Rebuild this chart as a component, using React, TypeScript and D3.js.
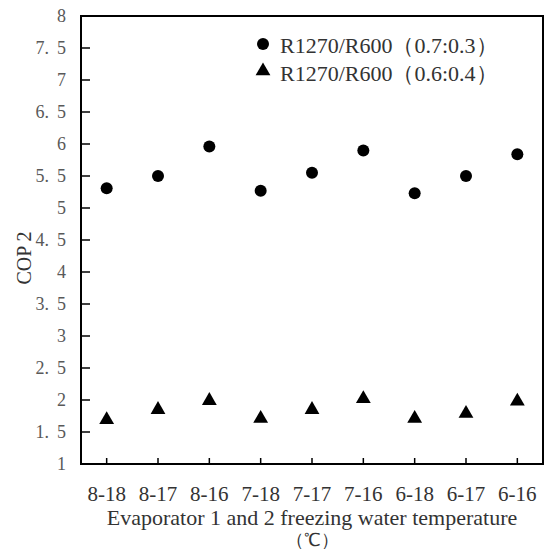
import React from "react";
import * as d3 from "d3";

const categories = ["8-18", "8-17", "8-16", "7-18", "7-17", "7-16", "6-18", "6-17", "6-16"];
const seriesA = [5.31, 5.5, 5.96, 5.27, 5.55, 5.9, 5.23, 5.5, 5.84];
const seriesB = [1.69, 1.85, 1.99, 1.71, 1.85, 2.02, 1.71, 1.79, 1.98];
const yTicks = [1, 1.5, 2, 2.5, 3, 3.5, 4, 4.5, 5, 5.5, 6, 6.5, 7, 7.5, 8];
const legendA = "R1270/R600（0.7:0.3）";
const legendB = "R1270/R600（0.6:0.4）";
const xTitle = "Evaporator 1 and 2 freezing water temperature";
const xUnit = "（℃）";
const yTitle = "COP 2";

const W = 546, H = 552;
const left = 81, right = 543, top = 16, bottom = 464;
const serif = "'Liberation Serif', 'Times New Roman', serif";

export default function App() {
  const x = d3.scaleBand<string>().domain(categories).range([left, right]);
  const y = d3.scaleLinear().domain([1, 8]).range([bottom, top]);
  const cx = (c: string) => (x(c) as number) + x.bandwidth() / 2;
  const tri = d3.symbol().type(d3.symbolTriangle).size(95)();

  return (
    <svg width={W} height={H} style={{ position: "absolute", left: 0, top: 0, background: "#fff" }}>
      <rect x={0} y={0} width={W} height={H} fill="#fff" />
      {yTicks.map((t) => {
        const s = String(t).split(".");
        return (
          <g key={t}>
            <line x1={left} x2={left + 9} y1={y(t)} y2={y(t)} stroke="#000" strokeWidth={1.5} />
            <text x={66} y={y(t)} dy="0.35em" textAnchor="end" fontFamily={serif} fontSize={18} fill="#595959">
              {s[0]}
              {s.length > 1 ? "." : null}
              {s.length > 1 ? <tspan dx={8}>{s[1]}</tspan> : null}
            </text>
          </g>
        );
      })}
      {categories.map((c) => (
        <g key={c}>
          <line x1={cx(c)} x2={cx(c)} y1={bottom} y2={bottom - 6} stroke="#000" strokeWidth={1.5} />
          <text x={cx(c)} y={501} textAnchor="middle" fontFamily={serif} fontSize={21} fill="#333">
            {c}
          </text>
        </g>
      ))}
      <rect x={left} y={top} width={right - left} height={bottom - top} fill="none" stroke="#000" strokeWidth={2} />
      {categories.map((c, i) => (
        <circle key={"a" + c} cx={cx(c)} cy={y(seriesA[i])} r={6} fill="#000" />
      ))}
      {categories.map((c, i) => (
        <path key={"b" + c} d={tri as string} transform={`translate(${cx(c)},${y(seriesB[i])})`} fill="#000" />
      ))}
      <circle cx={263} cy={44} r={6} fill="#000" />
      <path d={tri as string} transform={`translate(263,71)`} fill="#000" />
      <text x={280} y={53} fontFamily={serif} fontSize={22} fill="#333">{legendA}</text>
      <text x={280} y={81} fontFamily={serif} fontSize={22} fill="#333">{legendB}</text>
      <text x={(left + right) / 2} y={525} textAnchor="middle" fontFamily={serif} fontSize={22} fill="#333">{xTitle}</text>
      <text x={(left + right) / 2} y={546} textAnchor="middle" fontFamily={serif} fontSize={18} fill="#333">{xUnit}</text>
      <text transform={`translate(31,258) rotate(-90)`} textAnchor="middle" fontFamily={serif} fontSize={20} fill="#333">{yTitle}</text>
    </svg>
  );
}
